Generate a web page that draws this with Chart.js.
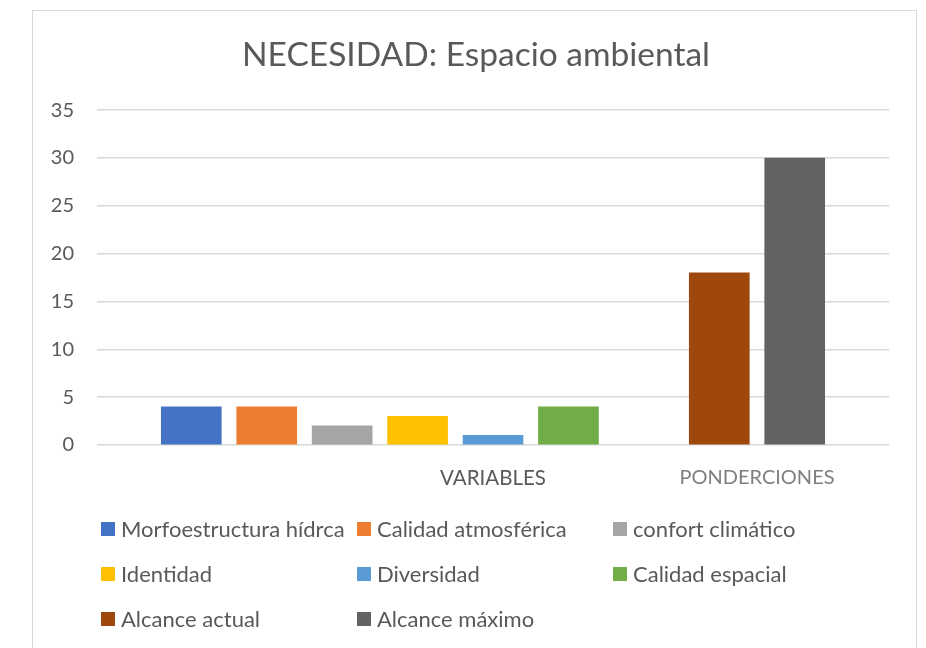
<!DOCTYPE html>
<html>

<head>
    <meta charset="utf-8">
    <script src="https://cdn.jsdelivr.net/npm/chart.js@4.4.1/dist/chart.umd.min.js"></script>
    <title>NECESIDAD: Espacio ambiental</title>
    <style>
        html, body { margin: 0; padding: 0; background: #fff; overflow: hidden; }
        #frame {
            position: absolute; left: 32px; top: 10px; width: 885px; height: 700px;
            border: 1.5px solid #d9d9d9; box-sizing: border-box;
        }
        #wrap { position: absolute; left: 0; top: 0; width: 952px; height: 648px; }
        #legend {
            position: absolute; left: 101px; top: 506px;
            display: grid; grid-template-columns: 256px 256px 256px; grid-auto-rows: 45px;
            font-family: Lato, sans-serif; font-size: 22px; color: #595959;
        }
        #legend .item { display: flex; align-items: center; white-space: nowrap; }
        #legend .box { width: 14px; height: 14px; margin-right: 6px; flex: none; }
    </style>
</head>

<body>
    <div id="frame"></div>
    <div id="wrap"><canvas id="chart" width="952" height="648"></canvas></div>
    <div id="legend"></div>
    <script>
        const categories = ['VARIABLES', 'PONDERCIONES'];
        const seriesNames = ['Morfoestructura hídrca', 'Calidad atmosférica', 'confort climático',
            'Identidad', 'Diversidad', 'Calidad espacial', 'Alcance actual', 'Alcance máximo'];
        const seriesValues = [4, 4, 2, 3, 1, 4, 18, 30];
        const seriesCategory = [0, 0, 0, 0, 0, 0, 1, 1];
        const seriesColors = ['#4472C4', '#ED7D31', '#A5A5A5', '#FFC000', '#5B9BD5', '#70AD47', '#9E480E', '#636363'];
        const yTicks = [0, 5, 10, 15, 20, 25, 30, 35];

        // the x axis is split into half-bar slots so the bars and the two
        // category captions can sit where they belong
        const SLOTS = 21;
        const firstSlot = [2, 16];
        const labelSlot = [10, 17];

        const slotLabels = new Array(SLOTS).fill('');
        categories.forEach((c, i) => { slotLabels[labelSlot[i]] = c; });

        const seen = [0, 0];
        const datasets = seriesNames.map((name, i) => {
            const cat = seriesCategory[i];
            const data = new Array(SLOTS).fill(null);
            data[firstSlot[cat] + 2 * seen[cat]++] = seriesValues[i];
            return {
                label: name,
                data: data,
                backgroundColor: seriesColors[i],
                skipNull: true,
                barThickness: 60
            };
        });

        Chart.defaults.font.family = 'Lato, sans-serif';
        Chart.defaults.color = '#595959';

        const chart = new Chart(document.getElementById('chart').getContext('2d'), {
            type: 'bar',
            data: { labels: slotLabels, datasets: datasets },
            options: {
                responsive: false,
                animation: false,
                layout: { padding: { left: 0, right: 0, top: 11, bottom: 0 } },
                plugins: {
                    legend: { display: false },
                    tooltip: { enabled: false },
                    title: {
                        display: true,
                        text: 'NECESIDAD: Espacio ambiental',
                        color: '#595959',
                        font: { size: 33.5, weight: 'normal' },
                        padding: { top: 24, bottom: 35 }
                    }
                },
                scales: {
                    x: {
                        grid: { display: false },
                        border: { display: false },
                        ticks: {
                            autoSkip: false,
                            maxRotation: 0,
                            padding: 13,
                            font: ctx => ({ size: ctx.index === labelSlot[0] ? 20.5 : 20 }),
                            color: ctx => ctx.index === labelSlot[1] ? '#7f7f7f' : '#595959'
                        },
                        afterFit: scale => { scale.height = 203; }
                    },
                    y: {
                        min: 0,
                        max: 35,
                        afterBuildTicks: scale => { scale.ticks = yTicks.map(v => ({ value: v })); },
                        grid: { color: '#d9d9d9', lineWidth: 1.5, drawTicks: false },
                        border: { display: false },
                        ticks: { padding: 23, font: { size: 20 } },
                        afterFit: scale => { scale.width = 97; }
                    },
                    // empty right-hand margin so the title centres over the framed area
                    spacer: {
                        type: 'linear',
                        position: 'right',
                        grid: { display: false },
                        border: { display: false },
                        ticks: { display: false },
                        afterFit: scale => { scale.width = 63; }
                    }
                }
            }
        });

        // legend laid out in three fixed columns
        const legend = document.getElementById('legend');
        chart.data.datasets.forEach(ds => {
            const item = document.createElement('div');
            item.className = 'item';
            const box = document.createElement('span');
            box.className = 'box';
            box.style.background = ds.backgroundColor;
            item.appendChild(box);
            item.appendChild(document.createTextNode(ds.label));
            legend.appendChild(item);
        });
    </script>
</body>

</html>
